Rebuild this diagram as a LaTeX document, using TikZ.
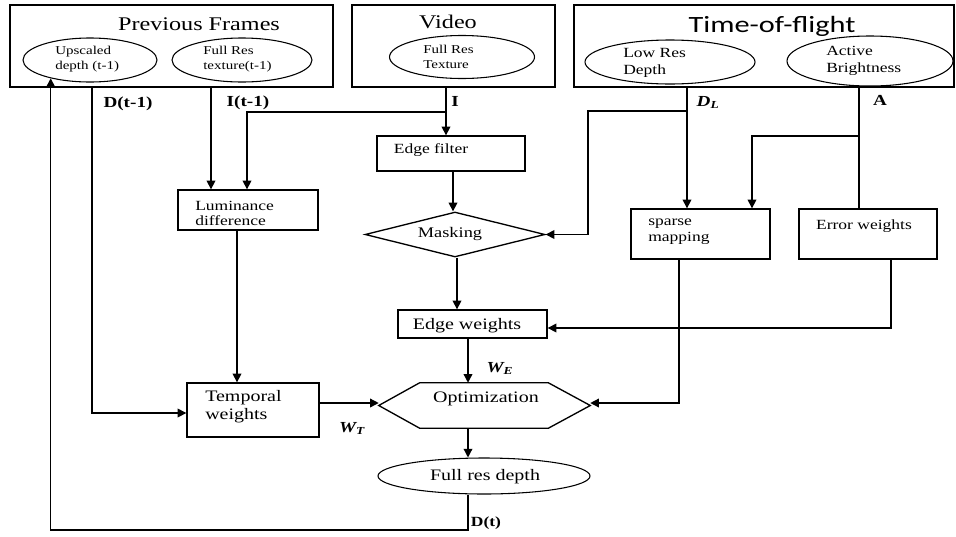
\documentclass[tikz,border=0pt]{standalone}
\usepackage{fontspec}
\setmainfont{Liberation Serif}[FakeStretch=1.25]
\newfontfamily\tofsans{Carlito}[FakeStretch=1.3]
\usetikzlibrary{arrows.meta,shapes.geometric,calc}
\begin{document}
\begin{tikzpicture}[x=0.75pt,y=-0.75pt,
  hdr/.style={draw, rectangle, line width=1pt, inner sep=0pt},
  ell/.style={draw, ellipse, line width=0.8pt, inner sep=0pt},
  proc/.style={draw, rectangle, line width=1pt, inner sep=0pt},
  conn/.style={line width=1pt},
  arr/.style={conn, -{Triangle[length=6.5pt,width=6.5pt]}},
  ttl/.style={inner sep=0pt, anchor=base, font=\fontsize{14.5}{16}\selectfont},
  etxt/.style={inner sep=0pt, anchor=west, align=left, font=\fontsize{9}{11.25}\selectfont},
  etxtb/.style={inner sep=0pt, anchor=west, align=left, font=\fontsize{10.5}{13}\selectfont},
  btxt/.style={inner sep=0pt, anchor=west, align=left, font=\fontsize{10.5}{12}\selectfont},
  btxtc/.style={inner sep=0pt, anchor=base, font=\fontsize{10.5}{12}\selectfont},
  bigtxt/.style={inner sep=0pt, anchor=base, font=\fontsize{12}{14}\selectfont},
  lbl/.style={inner sep=0pt, anchor=base, font=\bfseries\fontsize{11.5}{13}\selectfont},
  mlbl/.style={inner sep=0pt, anchor=base, font=\bfseries\itshape\fontsize{11.5}{13}\selectfont}
]
\useasboundingbox (0,0) rectangle (956,536);

% ---------- header boxes ----------
\node[hdr, minimum width=242.25pt, minimum height=61.5pt] (pf) at (171.5,46) {};
\node[hdr, minimum width=152.25pt, minimum height=61.5pt] (vid) at (453.5,46) {};
\node[hdr, minimum width=285pt, minimum height=61.5pt] (tof) at (764,46) {};

\node[ttl] (pft) at (199,30) {Previous Frames};
\node[ttl] (vidt) at (448,28) {Video};
\node[inner sep=0pt, anchor=base, font=\tofsans\fontsize{17.5}{20}\selectfont] (toft) at (772,32) {Time-of-flight};

% ---------- source ellipses ----------
\node[ell, minimum width=100.5pt, minimum height=33pt] (upd) at (90,60) {};
\node[etxt] (updt) at (55,59) {Upscaled\\depth (t-1)};
\node[ell, minimum width=105pt, minimum height=33pt] (frt) at (242,60) {};
\node[etxt] (frtt) at (203,59) {Full Res\\texture(t-1)};
\node[ell, minimum width=108.75pt, minimum height=32.25pt] (vft) at (462,57) {};
\node[etxt] (vftt) at (423,57) {Full Res\\Texture};
\node[ell, minimum width=127.5pt, minimum height=33pt] (lrd) at (670,62) {};
\node[etxtb] (lrdt) at (623,63) {Low Res\\Depth};
\node[ell, minimum width=124.5pt, minimum height=37.5pt] (ab) at (870,61) {};
\node[etxtb] (abt) at (826,61) {Active\\Brightness};

% ---------- processing nodes ----------
\node[proc, minimum width=105pt, minimum height=30pt] (lum) at (248,210) {};
\node[btxt, font=\fontsize{10.5}{11.25}\selectfont] (lumt) at (195,213) {Luminance\\difference};

\node[proc, minimum width=111pt, minimum height=26.25pt] (ef) at (451,153.5) {};
\node[btxtc] (eft) at (431,153) {Edge filter};

\node[draw, diamond, line width=1pt, inner sep=0pt, minimum width=135pt, minimum height=33.75pt] (mask) at (455,234.5) {};
\node[btxtc, font=\fontsize{11}{13}\selectfont] (maskt) at (450,237) {Masking};

\node[proc, minimum width=104.25pt, minimum height=37.5pt] (sm) at (700.5,234) {};
\node[btxt] (smt) at (648,232) {sparse\\mapping};

\node[proc, minimum width=103.5pt, minimum height=37.5pt] (err) at (868,234) {};
\node[btxtc] (errt) at (864,229) {Error weights};

\node[proc, minimum width=111.75pt, minimum height=21pt] (ew) at (472.5,324) {};
\node[bigtxt] (ewt) at (467,329) {Edge weights};

\node[proc, minimum width=99pt, minimum height=40.5pt] (tw) at (253,410) {};
\node[btxt, font=\fontsize{12}{13.5}\selectfont] (twt) at (205,407) {Temporal\\weights};

\node[inner sep=0pt, minimum width=158.25pt, minimum height=33.75pt] (opt) at (484.5,405.5) {};
\draw[line width=1pt, line join=miter] (opt.west) -- ($(opt.north west)+(41,0)$) -- ($(opt.north east)+(-42,0)$)
  -- (opt.east) -- ($(opt.south east)+(-42,0)$) -- ($(opt.south west)+(41,0)$) -- cycle;
\node[bigtxt] (optt) at (486,402) {Optimization};

\node[ell, minimum width=159pt, minimum height=27pt] (frd) at (484,476) {};
\node[bigtxt] (frdt) at (485,480) {Full res depth};

% ---------- helper coordinates ----------
\coordinate (xD) at (92,0);
\coordinate (xI1) at (211,0);
\coordinate (xIb) at (247,0);
\coordinate (xI) at (446,0);
\coordinate (xEF) at (453,0);
\coordinate (xM) at (457,0);
\coordinate (xW) at (468,0);
\coordinate (xLum) at (237,0);
\coordinate (xDL) at (687,0);
\coordinate (xDLb) at (588,0);
\coordinate (xA) at (859,0);
\coordinate (xAb) at (752,0);
\coordinate (xSM) at (679,0);
\coordinate (xER) at (891,0);
\coordinate (yLoop) at (0,530);
\coordinate (yTW) at (0,403);
\coordinate (yD) at (0,413);
\coordinate (yER) at (0,328);
\coordinate (iB) at (446,112);
\coordinate (dlB) at (687,111);
\coordinate (aB) at (859,136);

% ---------- connectors ----------
\draw[arr] (pf.south -| xD) |- (tw.west |- yD);
\draw[arr] (frd.south -| xW) -- (xW |- yLoop) -| (upd.205);
\draw[arr] (pf.south -| xI1) -- (xI1 |- lum.north);
\draw[arr] (vid.south -| xI) -- (xI |- ef.north);
\draw[arr] (iB) -| (xIb |- lum.north);
\draw[arr] (ef.south -| xEF) -- (xEF |- mask.north);
\draw[arr] (mask.south -| xM) -- (xM |- ew.north);
\draw[arr] (ew.south -| xW) -- (xW |- opt.north);
\draw[arr] (opt.south -| xW) -- (xW |- frd.north);
\draw[arr] (lum.south -| xLum) -- (xLum |- tw.north);
\draw[arr] (tw.east |- yTW) -- (opt.west |- yTW);
\draw[arr] (sm.south -| xSM) |- (opt.east |- yTW);
\draw[arr] (err.south -| xER) |- (ew.east |- yER);
\draw[arr] (tof.south -| xDL) -- (xDL |- sm.north);
\draw[arr] (dlB) -| (xDLb |- mask.east) -- (mask.east);
\draw[conn] (tof.south -| xA) -- (xA |- err.north);
\draw[arr] (aB) -| (xAb |- sm.north);

% ---------- labels ----------
\node[lbl] (lD1) at (128,107) {D(t-1)};
\node[lbl] (lI1) at (248,106) {I(t-1)};
\node[lbl] (lI) at (455,106) {I};
\node[mlbl] (lDL) at (708,106) {D\textsubscript{L}};
\node[lbl] (lA) at (880,105) {A};
\node[mlbl] (lWE) at (500,372) {W\textsubscript{E}};
\node[mlbl] (lWT) at (352,432) {W\textsubscript{T}};
\node[lbl, font=\bfseries\fontsize{10.5}{12}\selectfont] (lDt) at (486,526) {D(t)};
\end{tikzpicture}
\end{document}
